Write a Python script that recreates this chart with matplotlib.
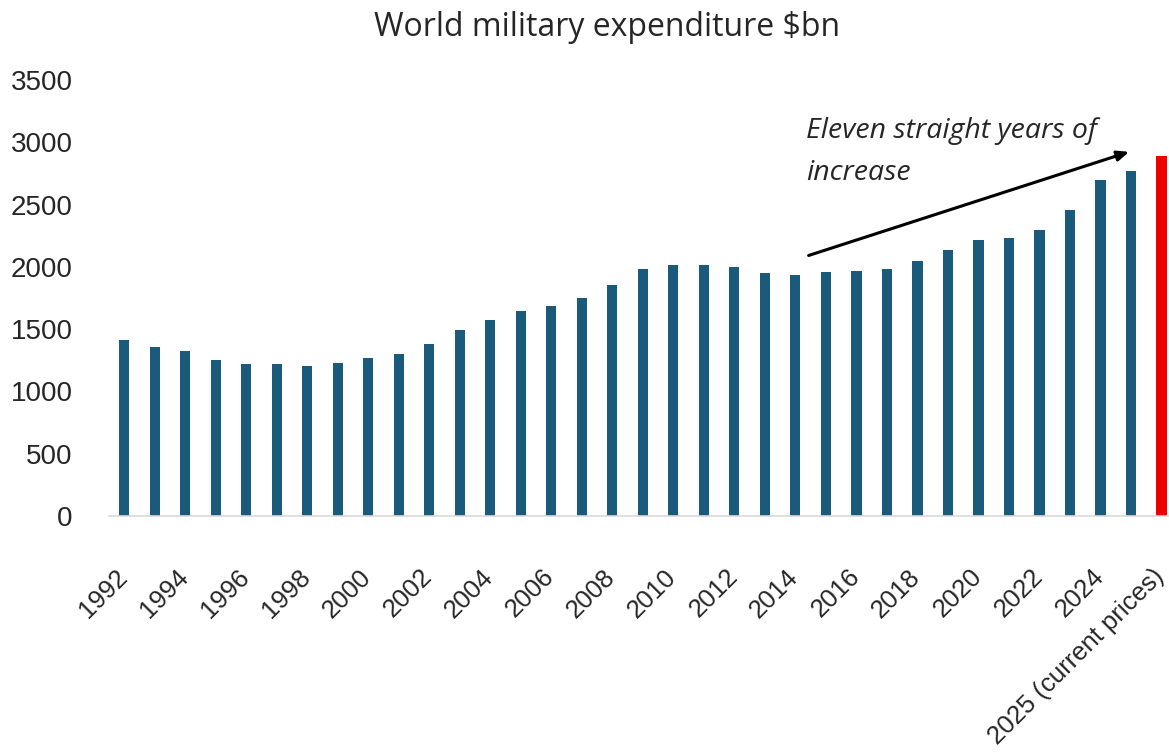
import matplotlib
matplotlib.use("Agg")
import matplotlib.pyplot as plt
import matplotlib.transforms as mtransforms
import numpy as np

categories = [str(y) for y in range(1992, 2026)] + ["2025 (current prices)"]
values = [1415, 1356, 1324, 1252, 1217, 1222, 1206, 1228, 1270, 1297,
          1383, 1490, 1570, 1643, 1683, 1750, 1855, 1980, 2018, 2018,
          1999, 1951, 1938, 1962, 1965, 1986, 2045, 2133, 2214, 2233,
          2299, 2455, 2696, 2774, 2894]
title = "World military expenditure $bn"
note_lines = ["Eleven straight years of", "increase"]
yticks = [0, 500, 1000, 1500, 2000, 2500, 3000, 3500]

blue = "#1a5b7c"
red = "#ee0000"
colors = [blue] * (len(values) - 1) + [red]

fig = plt.figure(figsize=(11.69, 7.56), dpi=100)
ax = fig.add_axes([0.0932, 0.3175, 0.9068, 0.5765])
x = np.arange(len(values))
ax.bar(x, values, width=0.34, color=colors, zorder=2)

ax.set_xlim(-0.5, 34.25)
ax.set_ylim(0, 3500)
ax.set_yticks(yticks)
ax.set_yticklabels([str(t) for t in yticks], fontsize=20,
                   fontfamily="Liberation Sans", color="#262626")
ax.tick_params(axis="y", length=0, pad=26)

ticks = x[::2]
ax.set_xticks(ticks)
ax.set_xticklabels([categories[i] for i in ticks], rotation=45, ha="right",
                   rotation_mode="anchor", fontsize=18.5,
                   fontfamily="Liberation Sans", color="#262626")
ax.tick_params(axis="x", length=0, pad=35)
offset = mtransforms.ScaledTranslation(-9 / 100, 0, fig.dpi_scale_trans)
for lab in ax.get_xticklabels():
    lab.set_transform(lab.get_transform() + offset)

for s in ["top", "right", "left"]:
    ax.spines[s].set_visible(False)
ax.spines["bottom"].set_color("#d9d9d9")
ax.spines["bottom"].set_linewidth(1.2)

fig.text(0.519, 0.964, title, ha="center", va="center", fontsize=23,
         fontfamily="Open Sans", color="#262626")

ax.annotate("", xy=(33.03, 2931), xytext=(22.35, 2085),
            arrowprops=dict(arrowstyle="-|>,head_length=0.7,head_width=0.3",
                            color="black", lw=2.2), zorder=3)
ax.text(22.35, 3039, note_lines[0], fontsize=20.5, style="italic",
        fontfamily="Open Sans", color="#262626", va="baseline", ha="left")
ax.text(22.35, 2701, note_lines[1], fontsize=20.5, style="italic",
        fontfamily="Open Sans", color="#262626", va="baseline", ha="left")

fig.savefig("out.png", dpi=100)
